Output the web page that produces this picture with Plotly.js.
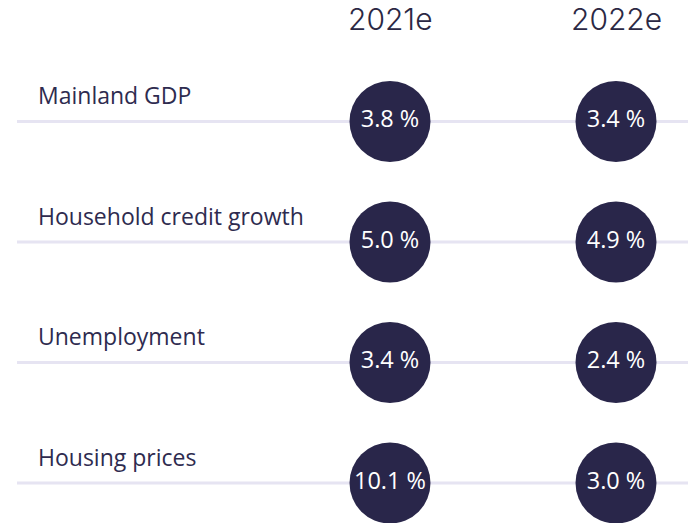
<!DOCTYPE html>
<html>
<head>
<meta charset="utf-8">
<script src="https://cdn.plot.ly/plotly-3.0.1.min.js"></script>
<style>html,body{margin:0;padding:0;background:#fff;}#chart{width:688px;height:523px;}</style>
</head>
<body>
<div id="chart"></div>
<script>
const categories = ["Mainland GDP", "Household credit growth", "Unemployment", "Housing prices"];
const years = ["2021e", "2022e"];
const values2021 = [3.8, 5.0, 3.4, 10.1];
const values2022 = [3.4, 4.9, 2.4, 3.0];

const navy = "#29264a";
const rows = categories.map((c, i) => i);
const series = [values2021, values2022];

const traces = series.map((vals, j) => ({
  type: "scatter",
  mode: "markers+text",
  x: rows.map(() => j),
  y: rows,
  text: vals.map(v => v.toFixed(1) + " %"),
  textposition: "middle center",
  textfont: {family: "Open Sans", size: 23.5, color: "#ffffff"},
  marker: {size: 81, color: navy, line: {width: 0}},
  hoverinfo: "skip",
  cliponaxis: true,
  showlegend: false
}));

const shapes = rows.map(i => ({
  type: "line", xref: "paper", yref: "y",
  x0: 17 / 688, x1: 1, y0: i, y1: i,
  line: {color: "#e6e4f2", width: 3},
  layer: "below"
}));

const annotations = [];
categories.forEach((c, i) => annotations.push({
  xref: "paper", yref: "y", x: 36 / 688, y: i,
  xanchor: "left", yanchor: "middle", yshift: 26,
  text: c, showarrow: false,
  font: {family: "Open Sans", size: 23, color: "#2e2b4f"}
}));
years.forEach((yr, j) => annotations.push({
  xref: "x", yref: "paper", x: j, y: 1 - 19 / 523,
  xanchor: "center", yanchor: "middle",
  text: yr, showarrow: false,
  font: {family: "Inter", size: 30, weight: 300, color: "#2b2844"}
}));

const layout = {
  width: 688, height: 523,
  margin: {l: 0, r: 0, t: 0, b: 0, pad: 0},
  paper_bgcolor: "#ffffff", plot_bgcolor: "#ffffff",
  xaxis: {range: [-1.7257, 1.3186], visible: false, fixedrange: true},
  yaxis: {range: [3.332, -1.008], visible: false, fixedrange: true},
  shapes: shapes,
  annotations: annotations,
  showlegend: false
};

Plotly.newPlot("chart", traces, layout, {staticPlot: true, displayModeBar: false});
</script>
</body>
</html>
